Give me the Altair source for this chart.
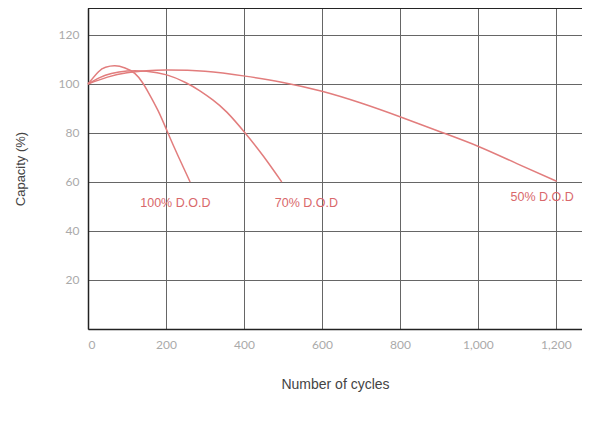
import altair as alt
import pandas as pd

# Data
cycles_100 = [0, 27, 45, 69, 95, 120, 140, 155, 180, 205, 232, 262]
cap_100 = [100, 105, 106.8, 107.4, 106.5, 104.3, 100.5, 96.5, 89, 80, 70.3, 60]

cycles_70 = [0, 30, 60, 100, 150, 202, 250, 287, 320, 356, 403, 450, 497]
cap_70 = [100, 102.6, 104.3, 105.3, 105.2, 103.7, 100.6, 97.2, 93.5, 88.5, 80, 70.5, 60]

cycles_50 = [0, 50, 100, 150, 200, 300, 403, 500, 600, 700, 800, 903, 1003, 1100, 1202]
cap_50 = [100, 102.8, 104.6, 105.4, 105.7, 105.2, 103.2, 100.6, 97, 92.2, 86.6, 80.5, 74.4, 67.5, 60.3]

label_text = ["100% D.O.D", "70% D.O.D", "50% D.O.D"]
label_x = [224, 560, 1165]
label_y = [51.4, 51.4, 53.9]

x_ticks = [0, 200, 400, 600, 800, 1000, 1200]
y_ticks = [20, 40, 60, 80, 100, 120]

rows = []
for name, xs, ys in [("100%", cycles_100, cap_100), ("70%", cycles_70, cap_70), ("50%", cycles_50, cap_50)]:
    for c, v in zip(xs, ys):
        rows.append({"series": name, "cycles": c, "capacity": v})
df = pd.DataFrame(rows)
labels = pd.DataFrame({"text": label_text, "cycles": label_x, "capacity": label_y})

LINE = "#e27d7d"
TXT = "#d9686b"

W = 494
xscale = alt.Scale(domain=[0, 1267], nice=False, zero=False)
yscale = alt.Scale(domain=[0, 131], nice=False)

xaxis = alt.Axis(values=x_ticks, format=",d", title="Number of cycles", grid=True,
                 gridColor="#666666", gridWidth=1, domainColor="#222222", domainWidth=1.5,
                 ticks=False, labelColor="#aaaaaa", labelFont="Lato", labelFontSize=12,
                 labelPadding=10, titleFont="Liberation Sans", titleFontSize=14,
                 titleFontWeight="normal", titleColor="#444444", titlePadding=27)
yaxis = alt.Axis(values=y_ticks, title="Capacity (%)", grid=True,
                 gridColor="#666666", gridWidth=1, domainColor="#222222", domainWidth=1.5,
                 ticks=False, labelColor="#aaaaaa", labelFont="Lato", labelFontSize=12,
                 labelPadding=9, titleFont="Liberation Sans", titleFontSize=13,
                 titleFontWeight="normal", titleColor="#444444", titlePadding=31)

lines = alt.Chart(df).mark_line(interpolate="natural", strokeWidth=1.5, color=LINE).encode(
    x=alt.X("cycles:Q", scale=xscale, axis=xaxis),
    y=alt.Y("capacity:Q", scale=yscale, axis=yaxis),
    detail="series:N",
)

text = alt.Chart(labels).mark_text(font="Liberation Sans", fontSize=12.5, color=TXT).encode(
    x=alt.X("cycles:Q", scale=xscale),
    y=alt.Y("capacity:Q", scale=yscale),
    text="text:N",
)

border = alt.Chart(labels).mark_rule(color="#222222", strokeWidth=1.5).encode(
    x=alt.value(0), x2=alt.value(W), y=alt.value(0)
)

chart = alt.layer(lines, text, border).properties(
    width=W, height=321,
    autosize=alt.AutoSizeParams(type="none"),
    padding={"left": 80, "top": 0, "right": 0, "bottom": 96},
    background="white",
).configure_view(stroke=None)

chart.save("out.html", embed_options={"renderer": "svg", "actions": False})
